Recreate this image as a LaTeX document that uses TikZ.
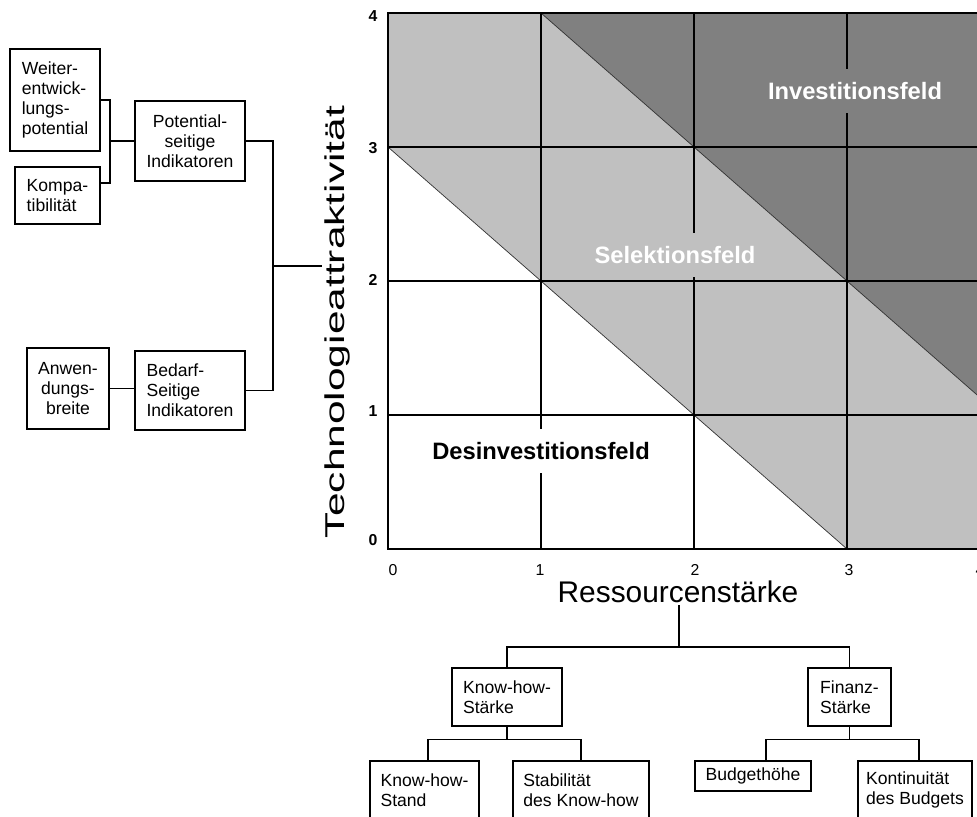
\documentclass[tikz,border=0pt]{standalone}
\usepackage{fontspec}
\setmainfont{Liberation Sans}
\newfontfamily\ylabfont[FakeStretch=1.56]{Liberation Sans}
\usepackage{tikz}
\definecolor{lightfield}{HTML}{C0C0C0}
\definecolor{darkfield}{HTML}{808080}

\begin{document}
\begin{tikzpicture}[x=0.02cm,y=-0.02cm]
\tikzstyle{every node}+=[inner sep=0pt]
\tikzstyle{box}=[draw,line width=0.75pt,font=\fontsize{10}{11.5}\selectfont]
\tikzstyle{grid line}=[line width=0.8pt]
\tikzstyle{field}=[font=\fontsize{13.5}{16}\selectfont\bfseries,minimum height=0.88cm]
\tikzstyle{tick}=[font=\fontsize{9}{10}\selectfont]
\useasboundingbox (0,0) rectangle (977,816);
\fill [lightfield] (388,147) -- (388,13) -- (1000,13) -- (1000,549) -- (847,549) -- cycle;
\fill [darkfield] (541,13) -- (1000,13) -- (1000,415) -- cycle;
\draw [black!80,line width=0.4pt] (388,147) -- (847,549);
\draw [black!80,line width=0.4pt] (541,13) -- (1000,415);
\foreach \x in {541,694,847}
  \draw [grid line] (\x,13) -- (\x,549);
\foreach \y in {147,281,415}
  \draw [grid line] (388,\y) -- (1000,\y);
\draw [line width=1.6pt] (1000,13) -- (388,13) -- (388,549) -- (1000,549);
\node [field,fill=darkfield,text=white] (invest) at (855,91) {Investitionsfeld};
\node [field,fill=lightfield,text=white] (selekt) at (675,255) {Selektionsfeld};
\node [field,fill=white] (desinv) at (541,451) {Desinvestitionsfeld};
\foreach \n/\y in {4/16,3/148,2/280,1/411,0/540}
  \node [tick,font=\fontsize{9}{10}\selectfont\bfseries] (yt\n) at (373,\y) {\n};
\foreach \n/\x in {0/393,1/540,2/695,3/849,4/980}
  \node [tick] (xt\n) at (\x,570) {\n};
\node [rotate=90,font=\ylabfont\fontsize{15.5}{18}\selectfont] (ylab) at (337,322) {Technologieattraktivität};
\node [font=\fontsize{17}{20}\selectfont] (xlab) at (678,592) {Ressourcenstärke};
\node [box,minimum width=1.8cm,minimum height=2.04cm,align=left] (weiter) at (55,100) {Weiter-\\entwick-\\lungs-\\potential};
\node [box,minimum width=1.7cm,minimum height=1.14cm,align=left] (kompa) at (57.5,195.5) {Kompa-\\tibilität};
\node [box,minimum width=2.2cm,minimum height=1.6cm,align=center] (potseit) at (190,141) {Potential-\\seitige\\Indikatoren};
\node [box,minimum width=1.64cm,minimum height=1.62cm,align=center] (anwend) at (68,388.5) {Anwen-\\dungs-\\breite};
\node [box,minimum width=2.2cm,minimum height=1.58cm,align=left] (bedarf) at (190,390.5) {Bedarf-\\Seitige\\Indikatoren};
\node [box,minimum width=2.2cm,minimum height=1.16cm,align=left] (khstaerke) at (507,697) {Know-how-\\Stärke};
\node [box,minimum width=1.66cm,minimum height=1.16cm,align=left] (finstaerke) at (849.5,697) {Finanz-\\Stärke};
\node [box,minimum width=2.18cm,minimum height=1.16cm,align=left] (khstand) at (424.5,790) {Know-how-\\Stand};
\node [box,minimum width=2.72cm,minimum height=1.16cm,align=left] (stabil) at (581,790) {Stabilität\\des Know-how};
\node [box,minimum width=2.32cm,minimum height=0.6cm,align=center] (budget) at (753,776) {Budgethöhe};
\node [box,minimum width=2.28cm,minimum height=1.16cm,align=left] (kontin) at (915,790) {Kontinuität\\des Budgets};
\coordinate (lj) at (110,141);
\coordinate (rj) at (273,266);
\coordinate (yend) at (322,266);
\coordinate (xstem) at (679,605);
\coordinate (bj) at (679,647);
\draw [line width=0.75pt] (weiter.east) -| (lj) |- ([yshift=0.25cm]kompa.east);
\draw [line width=0.75pt] (lj) -- (potseit.west);
\draw [line width=0.75pt] (potseit.east) -| (rj) |- (bedarf.east);
\draw [line width=0.75pt] (rj) -- (yend);
\draw [line width=0.75pt] (anwend.east) -- (anwend.east -| bedarf.west);
\draw [line width=0.75pt] (xstem) -- (bj);
\draw [line width=0.75pt] (khstaerke.north) |- (bj) -| (finstaerke.north);
\draw [line width=0.75pt] (khstaerke.south) -- ++(0,13) coordinate (kj);
\draw [line width=0.75pt] ([xshift=0.07cm]khstand.north) |- (kj) -| (stabil.north);
\draw [line width=0.75pt] (finstaerke.south) -- ++(0,13) coordinate (fj);
\draw [line width=0.75pt] ([xshift=0.26cm]budget.north) |- (fj) -| ([xshift=0.08cm]kontin.north);
\end{tikzpicture}
\end{document}
